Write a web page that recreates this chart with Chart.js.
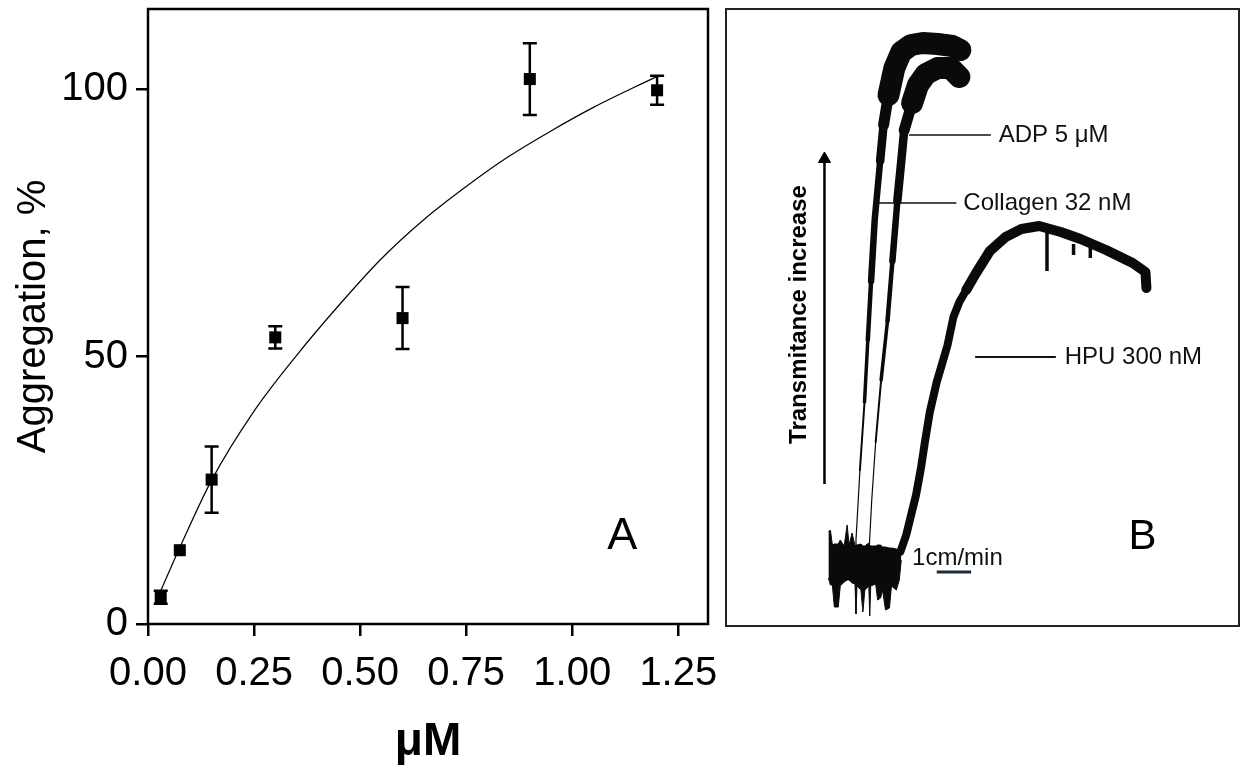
<!DOCTYPE html>
<html lang="en">
<head>
<meta charset="UTF-8" />
<title>Platelet aggregation</title>
<script src="https://cdn.jsdelivr.net/npm/chart.js"></script>
<style>
  body { margin: 0; background: #fff; }
  .wrap { position: relative; width: 1245px; height: 781px; overflow: hidden; }
  #aggChart { position: absolute; left: 0; top: 0; }
  #traceChart { position: absolute; left: 720px; top: 0; }
</style>
</head>
<body>
<div class="wrap">
  <canvas id="aggChart" width="720" height="781" style="width:720px;height:781px"></canvas>
  <canvas id="traceChart" width="525" height="640" style="width:525px;height:640px"></canvas>
</div>

<script>
  const FONT = '"Liberation Sans", Arial, Helvetica, sans-serif';

  // ---- panel A: aggregation vs HPU concentration ----
  const doses       = [0.03, 0.075, 0.15, 0.3, 0.6, 0.9, 1.2];
  const aggregation = [5.0, 13.8, 27.0, 53.6, 57.2, 101.9, 99.8];
  const aggErr      = [1.2, 0, 6.2, 2.1, 5.8, 6.7, 2.7];

  // fitted saturation curve
  const fitDoses  = [0.03, 0.075, 0.15, 0.25, 0.35, 0.45, 0.55, 0.65, 0.75, 0.85, 0.95, 1.05, 1.2];
  const fitValues = [6.2, 14.3, 26.9, 39.8, 50.2, 59.6, 68.3, 75.6, 81.8, 87.4, 92.2, 96.6, 102.4];

  const xTicks = [0, 0.25, 0.5, 0.75, 1.0, 1.25];
  const yTicks = [0, 50, 100];

  // ---- panel B: aggregometer traces (time in s, transmittance in %) ----
  const baseT      = [153, 156, 159, 162, 168, 171, 177, 181.5, 184.5, 189, 193.5, 195, 196.5, 202.5, 205.5,
                      208.5, 214.5, 216, 217.5, 225, 228, 232.5, 235.5, 240, 246, 249, 256.5, 261, 264];
  const baseTop    = [6.0, 6.4, 3.4, 3.6, 3.6, 4.4, 3.2, 7.4, 3.4, 5.8, 3.2, 3.4, 3.4, 3.6, 3.2,
                      3.2, 3.8, 3.4, 3.2, 3.2, 3.4, 3.4, 3.0, 3.0, 2.8, 2.8, 2.6, 2.4, 2.2];
  const baseBottom = [-3.2, -4.6, -4.6, -9.0, -9.0, -4.8, -4.0, -3.6, -3.6, -4.2, -4.4, -10.4, -4.8, -5.6, -10.0,
                      -5.6, -4.8, -10.8, -4.8, -4.4, -7.6, -7.2, -5.6, -9.6, -9.2, -4.8, -5.6, -3.6, 0.4];

  const collagenT = [193.5, 195, 201, 208, 213, 218, 223.5, 231.8, 237, 244.5, 253.5, 264, 279, 297, 319.5, 342, 354];
  const collagenV = [0.4, 4.4, 18.4, 32.0, 44.4, 56.2, 68.4, 80.2, 87.4, 93.4, 98.8, 102.0, 103.4, 103.8, 103.6, 103.2, 102.4];

  const adpT = [214.5, 219, 225, 233.3, 243, 250.5, 258, 264, 268.5, 280.5, 289.5, 301.5, 319.5, 339, 352.5];
  const adpV = [1.2, 12.4, 24.0, 36.4, 48.2, 60.2, 72.2, 80.2, 86.4, 91.8, 95.4, 97.6, 98.8, 98.8, 97.0];

  const hpuT = [262.5, 271.5, 279, 286.5, 294, 300, 307.5, 318, 327, 334.5, 343.5, 352.5, 363, 378,
                399, 423, 447, 474, 507, 537, 576, 616.5, 636, 637.5];
  const hpuV = [2.0, 5.4, 9.4, 13.4, 18.8, 24.0, 30.0, 36.0, 40.0, 43.4, 49.0, 52.0, 54.4, 57.8,
                62.2, 65.0, 66.6, 67.2, 66.0, 64.6, 62.4, 59.8, 58.0, 54.8];

  // short downward artefacts on the HPU plateau
  const hpuSpikeT    = [486, 526.5, 552];
  const hpuSpikeTop  = [67.0, 63.6, 64.0];
  const hpuSpikeLow  = [58.2, 61.4, 60.8];

  const traceNames = ['ADP 5 μM', 'Collagen 32 nM', 'HPU 300 nM'];

  // leader lines and label anchors (data units)
  const callouts = [
    { text: traceNames[0], from: 276,   to: 400.5, v: 85.4, labelAt: 412.5 },
    { text: traceNames[1], from: 222,   to: 348,   v: 71.8, labelAt: 358.5 },
    { text: traceNames[2], from: 376.5, to: 499.5, v: 41.0, labelAt: 513 }
  ];

  const pts = (xs, ys) => xs.map((x, i) => ({ x: x, y: ys[i] }));

  // generic text layer, positions given in data units
  function textLayer(id, items) {
    return {
      id: id,
      afterDatasetsDraw(chart) {
        const { ctx, scales } = chart;
        ctx.save();
        items.forEach(it => {
          const px = scales.x.getPixelForValue(it.x);
          const py = scales.y.getPixelForValue(it.y);
          ctx.save();
          ctx.translate(px, py);
          if (it.rotate) ctx.rotate(it.rotate);
          ctx.font = it.font;
          ctx.fillStyle = it.color || '#000';
          ctx.textAlign = it.align || 'center';
          ctx.textBaseline = 'middle';
          ctx.fillText(it.text, 0, 0);
          ctx.restore();
        });
        ctx.restore();
      }
    };
  }

  function frameBox(grow, width, color) {
    return {
      id: 'frameBox',
      afterDatasetsDraw(chart) {
        const { ctx, chartArea: a } = chart;
        ctx.save();
        ctx.strokeStyle = color;
        ctx.lineWidth = width;
        ctx.strokeRect(a.left - grow, a.top - grow, a.right - a.left + 2 * grow, a.bottom - a.top + 2 * grow);
        ctx.restore();
      }
    };
  }

  const errorBars = {
    id: 'errorBars',
    beforeDatasetsDraw(chart) {
      const { ctx, scales: { x, y } } = chart;
      ctx.save();
      ctx.strokeStyle = '#000';
      ctx.lineWidth = 2.5;
      doses.forEach((d, i) => {
        if (!aggErr[i]) return;
        const px = x.getPixelForValue(d);
        const top = y.getPixelForValue(aggregation[i] + aggErr[i]);
        const bot = y.getPixelForValue(aggregation[i] - aggErr[i]);
        ctx.beginPath();
        ctx.moveTo(px, top); ctx.lineTo(px, bot);
        ctx.moveTo(px - 7, top); ctx.lineTo(px + 7, top);
        ctx.moveTo(px - 7, bot); ctx.lineTo(px + 7, bot);
        ctx.stroke();
      });
      ctx.restore();
    }
  };

  // keep the plot box where it is, labels may overhang
  function noLabelPadding(s) {
    s.paddingLeft = 0; s.paddingRight = 0; s.paddingTop = 0; s.paddingBottom = 0;
  }

  new Chart(document.getElementById('aggChart'), {
    type: 'line',
    data: {
      datasets: [
        {
          data: pts(fitDoses, fitValues),
          borderColor: '#000',
          borderWidth: 1.2,
          pointRadius: 0,
          cubicInterpolationMode: 'monotone'
        },
        {
          data: pts(doses, aggregation),
          showLine: false,
          pointStyle: 'rect',
          pointRadius: 8.5,
          pointBackgroundColor: '#000',
          pointBorderColor: '#000',
          pointBorderWidth: 0
        }
      ]
    },
    options: {
      responsive: false,
      animation: false,
      events: [],
      layout: { padding: { left: 0, top: 9, right: 12, bottom: 0 } },
      plugins: { legend: { display: false }, tooltip: { enabled: false } },
      scales: {
        x: {
          type: 'linear',
          min: 0, max: 1.32,
          afterFit: s => { s.height = 157; noLabelPadding(s); },
          afterBuildTicks: s => { s.ticks = xTicks.map(v => ({ value: v })); },
          border: { display: false },
          grid: { drawOnChartArea: false, drawTicks: true, tickLength: 12, lineWidth: 2.5, color: '#000' },
          ticks: {
            callback: v => Number(v).toFixed(2),
            color: '#000', font: { family: FONT, size: 40 },
            padding: 14, maxRotation: 0, autoSkip: false
          },
          title: {
            display: true, text: 'μM', color: '#000',
            font: { family: FONT, size: 46, weight: 'bold' },
            padding: { top: 0, bottom: 11 }
          }
        },
        y: {
          type: 'linear',
          min: 0, max: 115,
          afterFit: s => { s.width = 148; noLabelPadding(s); },
          afterBuildTicks: s => { s.ticks = yTicks.map(v => ({ value: v })); },
          border: { display: false },
          grid: { drawOnChartArea: false, drawTicks: true, tickLength: 12, lineWidth: 2.5, color: '#000' },
          ticks: { color: '#000', font: { family: FONT, size: 40 }, padding: 8 },
          title: {
            display: true, text: 'Aggregation, %', color: '#000',
            font: { family: FONT, size: 40 },
            padding: { top: 10, bottom: 0 }
          }
        }
      }
    },
    plugins: [errorBars, frameBox(0, 2.5, '#000'),
      textLayer('panelA', [{ text: 'A', x: 1.118, y: 16.3, font: '45px ' + FONT }])]
  });

  // trace thickness grows with the pen speed near the top of each rise
  function riseWidth(ctx) {
    const v = (ctx.p0.parsed.y + ctx.p1.parsed.y) / 2;
    if (v < 20) return 1.2;
    if (v < 35) return 2;
    if (v < 50) return 3.5;
    if (v < 62) return 4.5;
    if (v < 75) return 6.5;
    if (v < 85) return 8.5;
    if (v < 93) return 11;
    return 22;
  }

  function hpuWidth(ctx) {
    const v = (ctx.p0.parsed.y + ctx.p1.parsed.y) / 2;
    return v < 55 ? 8 : 10;
  }

  const leaderData = [];
  callouts.forEach(c => {
    leaderData.push({ x: c.from, y: c.v }, { x: c.to, y: c.v }, { x: c.to, y: null });
  });

  const spikeData = [];
  hpuSpikeT.forEach((t, i) => {
    spikeData.push({ x: t, y: hpuSpikeTop[i] }, { x: t, y: hpuSpikeLow[i] }, { x: t, y: null });
  });

  const ink = '#0a0a0a';

  new Chart(document.getElementById('traceChart'), {
    type: 'line',
    data: {
      datasets: [
        { data: pts(baseT, baseTop), borderColor: ink, borderWidth: 1, pointRadius: 0, fill: false },
        { data: pts(baseT, baseBottom), borderColor: ink, borderWidth: 1, pointRadius: 0,
          fill: '-1', backgroundColor: ink },
        { data: pts(collagenT, collagenV), borderColor: ink, pointRadius: 0,
          borderCapStyle: 'round', borderJoinStyle: 'round', segment: { borderWidth: riseWidth } },
        { data: pts(adpT, adpV), borderColor: ink, pointRadius: 0,
          borderCapStyle: 'round', borderJoinStyle: 'round', segment: { borderWidth: riseWidth } },
        { data: pts(hpuT, hpuV), borderColor: ink, pointRadius: 0,
          borderCapStyle: 'round', borderJoinStyle: 'round', segment: { borderWidth: hpuWidth } },
        { data: spikeData, borderColor: ink, borderWidth: 3.5, pointRadius: 0, spanGaps: false },
        { data: leaderData.slice(0, 6), borderColor: '#111', borderWidth: 1.3, pointRadius: 0, spanGaps: false },
        { data: leaderData.slice(6), borderColor: '#111', borderWidth: 2, pointRadius: 0, spanGaps: false },
        // "transmittance increase" arrow
        { data: [{ x: 147, y: 15.6 }, { x: 147, y: 80.6 }], borderColor: '#000', borderWidth: 2.5,
          pointRadius: [0, 7], pointStyle: 'triangle', pointBackgroundColor: '#000',
          pointBorderColor: '#000', pointBorderWidth: 1 },
        // chart-speed scale bar
        { data: [{ x: 318, y: -2.0 }, { x: 370.5, y: -2.0 }], borderColor: '#1d2a3a', borderWidth: 3,
          pointRadius: 0 }
      ]
    },
    options: {
      responsive: false,
      animation: false,
      events: [],
      layout: { padding: { left: 2, top: 11, right: 6, bottom: 16 } },
      plugins: { legend: { display: false }, tooltip: { enabled: false } },
      scales: {
        x: { type: 'linear', min: 0, max: 775.5, display: false },
        y: { type: 'linear', min: -12.4, max: 110.2, display: false }
      }
    },
    plugins: [frameBox(2, 2, '#222'),
      textLayer('panelB', callouts.map(c => ({
        text: c.text, x: c.labelAt, y: c.v, align: 'left', font: '24px ' + FONT, color: '#111'
      })).concat([
        { text: 'Transmitance increase', x: 108, y: 49.5, rotate: -Math.PI / 2,
          font: 'bold 24px ' + FONT, color: '#000' },
        { text: '1cm/min', x: 280.5, y: 0.8, align: 'left', font: '24px ' + FONT, color: '#111' },
        { text: 'B', x: 631.5, y: 5.0, font: '42px ' + FONT, color: '#000' }
      ]))]
  });
</script>
</body>
</html>
